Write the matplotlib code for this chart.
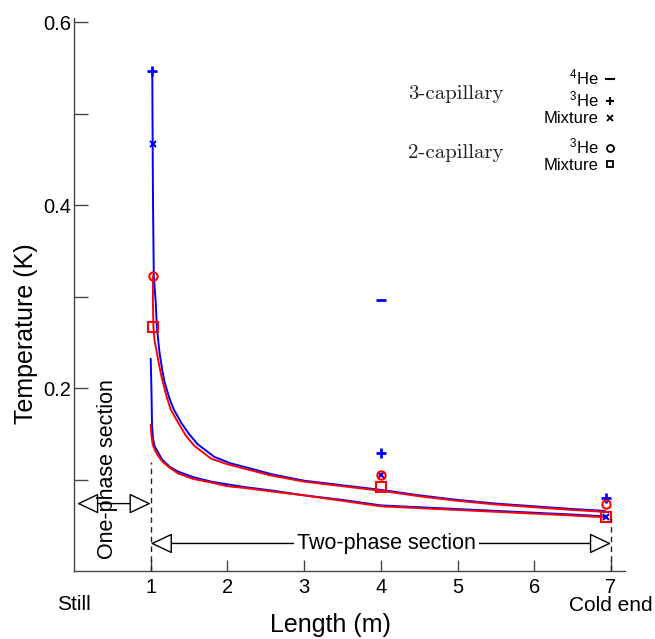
import matplotlib
matplotlib.use("Agg")
import matplotlib.pyplot as plt
from matplotlib.lines import Line2D

plt.rcParams['font.family'] = ['Liberation Sans', 'DejaVu Sans']
plt.rcParams['mathtext.fontset'] = 'custom'
plt.rcParams['mathtext.rm'] = 'Liberation Sans'
plt.rcParams['mathtext.it'] = 'Liberation Sans:italic'
plt.rcParams['mathtext.bf'] = 'Liberation Sans:bold'

# ---- data ----
# 3-capillary (blue) measured points
he4_3cap_x = [4.0]
he4_3cap_y = [0.297]
he3_3cap_x = [1.02, 4.0, 6.93]
he3_3cap_y = [0.547, 0.129, 0.080]
mix_3cap_x = [1.025, 4.0, 6.93]
mix_3cap_y = [0.467, 0.105, 0.059]
# 2-capillary (red) measured points
he3_2cap_x = [1.03, 4.0, 6.93]
he3_2cap_y = [0.323, 0.105, 0.073]
mix_2cap_x = [1.035, 4.0, 6.93]
mix_2cap_y = [0.267, 0.092, 0.059]

# model curves
blue_upper_x = [1.02, 1.025, 1.03, 1.04, 1.065, 1.08, 1.113, 1.15, 1.18, 1.24, 1.30, 1.40, 1.50,
                1.61, 1.83, 2.04, 2.27, 2.58, 3.00, 3.50, 4.00, 4.50, 5.00, 5.50, 6.00, 6.50, 6.92]
blue_upper_y = [0.547, 0.467, 0.400, 0.323, 0.294, 0.267, 0.240, 0.220, 0.207, 0.190, 0.177, 0.162, 0.150,
                0.139, 0.125, 0.118, 0.113, 0.106, 0.099, 0.094, 0.089, 0.083, 0.078, 0.074, 0.071, 0.068, 0.066]
red_upper_x = [1.03, 1.028, 1.035, 1.05, 1.078, 1.11, 1.14, 1.20, 1.26, 1.36, 1.46, 1.57, 1.79, 2.00,
               2.23, 2.55, 3.00, 3.50, 4.00, 4.50, 5.00, 5.50, 6.00, 6.50, 6.92]
red_upper_y = [0.323, 0.295, 0.267, 0.252, 0.240, 0.225, 0.213, 0.193, 0.177, 0.162, 0.148, 0.137, 0.123, 0.117,
               0.112, 0.105, 0.098, 0.093, 0.088, 0.082, 0.077, 0.073, 0.070, 0.067, 0.065]
blue_lower_x = [1.0, 1.009, 1.017, 1.03, 1.05, 1.095, 1.15, 1.25, 1.356, 1.55, 1.79, 2.0, 2.23,
                2.6, 3.0, 3.5, 4.0, 4.5, 5.0, 5.5, 6.0, 6.5, 6.92]
blue_lower_y = [0.232, 0.199, 0.159, 0.145, 0.137, 0.130, 0.122, 0.114, 0.109, 0.103, 0.098, 0.095, 0.092,
                0.088, 0.083, 0.078, 0.072, 0.070, 0.068, 0.066, 0.064, 0.062, 0.060]
red_lower_x = [1.0, 1.01, 1.025, 1.05, 1.09, 1.15, 1.25, 1.356, 1.55, 1.79, 2.0, 2.23, 2.6, 3.0,
               3.5, 4.0, 4.5, 5.0, 5.5, 6.0, 6.5, 6.92]
red_lower_y = [0.160, 0.148, 0.139, 0.133, 0.127, 0.120, 0.113, 0.107, 0.101, 0.097, 0.093, 0.091, 0.087, 0.083,
               0.077, 0.071, 0.069, 0.067, 0.065, 0.063, 0.061, 0.059]

x_ticks = [1, 2, 3, 4, 5, 6, 7]
y_major = [0.2, 0.4, 0.6]
y_minor = [0.1, 0.3, 0.5]
section_bounds = [1.0, 7.0]
section_tops = [0.12, 0.058]

BLUE = '#0000ff'
RED = '#ff0000'
SPINE = '#444444'

fig = plt.figure(figsize=(6.55, 6.39), dpi=100)
ax = fig.add_axes([0.113, 0.106, 0.841, 0.866])

ax.plot(blue_upper_x, blue_upper_y, color=BLUE, lw=1.4)
ax.plot(blue_lower_x, blue_lower_y, color=BLUE, lw=1.4)
ax.plot(red_upper_x, red_upper_y, color=RED, lw=1.4)
ax.plot(red_lower_x, red_lower_y, color=RED, lw=1.4)

ax.plot(he4_3cap_x, he4_3cap_y, ls='none', marker='_', ms=7, mew=2, color=BLUE)
ax.plot(he3_3cap_x, he3_3cap_y, ls='none', marker='+', ms=7, mew=2, color=BLUE)
ax.plot(mix_3cap_x, mix_3cap_y, ls='none', marker='x', ms=4, mew=1.5, color=BLUE)
ax.plot(he3_2cap_x, he3_2cap_y, ls='none', marker='o', ms=6, mew=1.5, mfc='none', color=RED)
ax.plot(mix_2cap_x, mix_2cap_y, ls='none', marker='s', ms=7, mew=1.5, mfc='none', color=RED)

# section markers
ax.vlines(section_bounds, 0, section_tops, colors='#222222', linestyles=(0, (4, 3)), lw=1)
aprops = dict(arrowstyle='<|-|>,head_length=0.8,head_width=0.38', mutation_scale=17,
              fc='white', ec='black', lw=1, shrinkA=0, shrinkB=0)
ax.annotate('', xy=(1.0, 0.074), xytext=(0.04, 0.074), arrowprops=aprops)
ax.annotate('', xy=(7.0, 0.0304), xytext=(1.0, 0.0304), arrowprops=aprops)
ax.text(0.44, 0.112, 'One-phase section', rotation=90, ha='center', va='center', fontsize=15.5)
ax.text(4.07, 0.0304, 'Two-phase section', ha='center', va='center', fontsize=15.5,
        bbox=dict(fc='white', ec='none', pad=2))

ax.set_xlim(0, 7.18)
ax.set_ylim(0, 0.605)
ax.set_xticks(x_ticks)
ax.set_yticks(y_major)
ax.set_yticks(y_minor, minor=True)
ax.set_yticklabels(['0.2', '0.4', '0.6'])
ax.tick_params(axis='both', which='both', direction='in', length=10, width=1, color=SPINE,
               labelsize=14.5)
ax.tick_params(axis='y', pad=2)
ax.tick_params(axis='x', pad=5, length=8)
for s in ['top', 'right']:
    ax.spines[s].set_visible(False)
for s in ['left', 'bottom']:
    ax.spines[s].set_color(SPINE)
    ax.spines[s].set_linewidth(1)

ax.set_xlabel('Length (m)', fontsize=18)
ax.xaxis.set_label_coords(0.465, -0.075)
ax.set_ylabel('Temperature (K)', fontsize=18)
ax.yaxis.set_label_coords(-0.065, 0.43)

ax.text(0.0, -0.06, 'Still', transform=ax.get_xaxis_transform(), ha='center', va='center', fontsize=15)
ax.text(7.0, -0.062, 'Cold end', transform=ax.get_xaxis_transform(), ha='center', va='center', fontsize=15)

# legends
h1 = [Line2D([], [], ls='none', marker='_', ms=7, mew=1.5, color='k'),
      Line2D([], [], ls='none', marker='+', ms=6, mew=1.5, color='k'),
      Line2D([], [], ls='none', marker='x', ms=4.5, mew=1.3, color='k')]
leg1 = ax.legend(h1, ['$^4$He', '$^3$He', 'Mixture'], loc='upper right', bbox_to_anchor=(0.985, 0.91),
                 markerfirst=False, frameon=False, fontsize=12, handlelength=0.8, handletextpad=0.3,
                 labelspacing=0.12, borderpad=0, borderaxespad=0)
ax.add_artist(leg1)
h2 = [Line2D([], [], ls='none', marker='o', ms=5, mew=1.3, mfc='none', color='k'),
      Line2D([], [], ls='none', marker='s', ms=5, mew=1.3, mfc='none', color='k')]
ax.legend(h2, ['$^3$He', 'Mixture'], loc='upper right', bbox_to_anchor=(0.985, 0.785),
          markerfirst=False, frameon=False, fontsize=12, handlelength=0.8, handletextpad=0.3,
          labelspacing=0.08, borderpad=0, borderaxespad=0)

ax.text(0.693, 0.862, '3-capillary', transform=ax.transAxes, family='cmr10', fontsize=15,
        ha='center', va='center', color='#222222')
ax.text(0.693, 0.755, '2-capillary', transform=ax.transAxes, family='cmr10', fontsize=15,
        ha='center', va='center', color='#222222')

fig.savefig('out.png', dpi=100)
